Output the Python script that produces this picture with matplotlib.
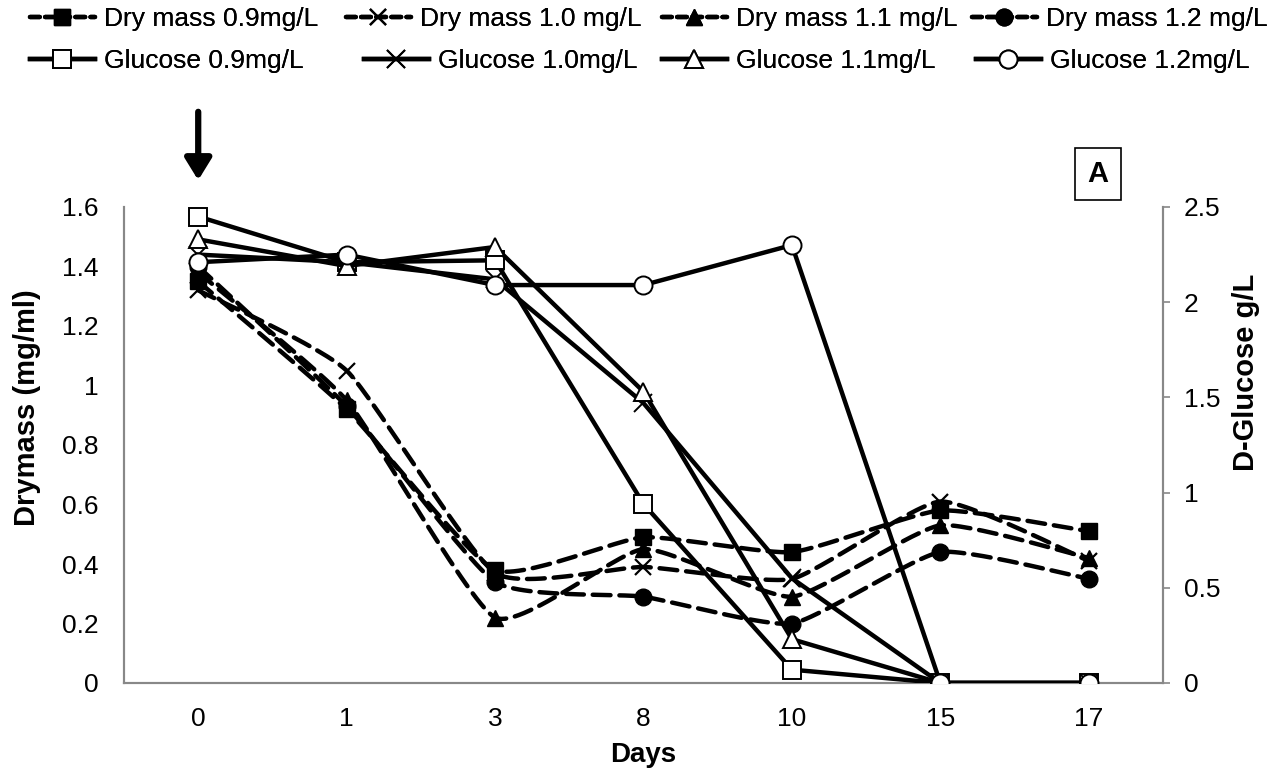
import numpy as np
import matplotlib
matplotlib.use("Agg")
import matplotlib.pyplot as plt
from matplotlib.lines import Line2D

plt.rcParams['font.family'] = ['Liberation Sans', 'DejaVu Sans']

days = ['0', '1', '3', '8', '10', '15', '17']

# dry mass (mg/ml), left axis
dry_09 = [1.35, 0.92, 0.38, 0.49, 0.44, 0.58, 0.51]
dry_10 = [1.32, 1.05, 0.37, 0.39, 0.35, 0.61, 0.41]
dry_11 = [1.38, 0.95, 0.22, 0.45, 0.29, 0.53, 0.42]
dry_12 = [1.40, 0.93, 0.34, 0.29, 0.20, 0.44, 0.35]

# D-glucose (g/L), right axis
glu_09 = [2.45, 2.21, 2.22, 0.94, 0.07, 0.0, 0.0]
glu_10 = [2.25, 2.21, 2.12, 1.47, 0.55, 0.0, 0.0]
glu_11 = [2.33, 2.19, 2.29, 1.53, 0.23, 0.0, 0.0]
glu_12 = [2.21, 2.25, 2.09, 2.09, 2.30, 0.0, 0.0]

dry_labels = ['Dry mass 0.9mg/L', 'Dry mass 1.0 mg/L', 'Dry mass 1.1 mg/L', 'Dry mass 1.2 mg/L']
glu_labels = ['Glucose 0.9mg/L', 'Glucose 1.0mg/L', 'Glucose 1.1mg/L', 'Glucose 1.2mg/L']
markers = ['s', 'x', '^', 'o']


def smooth(y, k=0.085, n=30):
    """Bezier smoothing through the points (spreadsheet-style 'smoothed line')."""
    y = np.asarray(y, float)
    x = np.arange(len(y), dtype=float)
    px = np.concatenate([[x[0]], x, [x[-1]]])
    py = np.concatenate([[y[0]], y, [y[-1]]])
    xs, ys = [], []
    t = np.linspace(0, 1, n)
    for i in range(len(y) - 1):
        p0x, p1x, p2x, p3x = px[i], px[i + 1], px[i + 2], px[i + 3]
        p0y, p1y, p2y, p3y = py[i], py[i + 1], py[i + 2], py[i + 3]
        c1x, c1y = p1x + (p2x - p0x) * k, p1y + (p2y - p0y) * k
        c2x, c2y = p2x - (p3x - p1x) * k, p2y - (p3y - p1y) * k
        bx = (1 - t) ** 3 * p1x + 3 * (1 - t) ** 2 * t * c1x + 3 * (1 - t) * t ** 2 * c2x + t ** 3 * p2x
        by = (1 - t) ** 3 * p1y + 3 * (1 - t) ** 2 * t * c1y + 3 * (1 - t) * t ** 2 * c2y + t ** 3 * p2y
        xs.append(bx)
        ys.append(by)
    return np.concatenate(xs), np.concatenate(ys)


W, H = 1286, 769
fig = plt.figure(figsize=(W / 100, H / 100), dpi=100)
ax = fig.add_axes([124 / W, 86 / H, (1163 - 124) / W, (683 - 207) / H])
ax2 = ax.twinx()

x = np.arange(len(days))
gray = '#888888'
lw = 3.2
dashes = (4, 2)
ms = 12

dry_handles = []
for vals, m, lab in zip([dry_09, dry_10, dry_11, dry_12], markers, dry_labels):
    sx, sy = smooth(vals)
    ax.plot(sx, sy, color='black', lw=lw, dashes=dashes, dash_capstyle='round', zorder=2)
    ax.plot(x, vals, ls='none', marker=m, ms=ms, color='black', mec='black',
            mew=1.6 if m == 'x' else 1, zorder=3)
    dry_handles.append(Line2D([], [], color='black', lw=lw, dashes=(2.2, 1.2),
                              marker=m, ms=ms, mew=1.6 if m == 'x' else 1,
                              dash_capstyle='round', label=lab))

glu_handles = []
for vals, m, lab in zip([glu_09, glu_10, glu_11, glu_12], markers, glu_labels):
    fc = 'black' if m == 'x' else 'white'
    ax2.plot(x, vals, color='black', lw=lw, marker=m, ms=ms + 1, mfc=fc,
             mec='black', mew=1.4, zorder=3)
    glu_handles.append(Line2D([], [], color='black', lw=lw, marker=m, ms=ms + 1,
                              mfc=fc, mec='black', mew=1.4, label=lab))

ax.set_xlim(-0.5, len(days) - 0.5)
ax.set_ylim(0, 1.6)
ax2.set_ylim(0, 2.5)
ax.set_xticks(x)
ax.set_xticklabels(days)
ax.set_yticks(np.arange(0, 1.61, 0.2))
ax.set_yticklabels(['0', '0.2', '0.4', '0.6', '0.8', '1', '1.2', '1.4', '1.6'])
ax2.set_yticks([0, 0.5, 1, 1.5, 2, 2.5])
ax2.set_yticklabels(['0', '0.5', '1', '1.5', '2', '2.5'])

for a in (ax, ax2):
    a.spines['top'].set_visible(False)
    for s in ('left', 'right', 'bottom'):
        a.spines[s].set_color(gray)
        a.spines[s].set_linewidth(1.5)
    a.patch.set_visible(False)

ax.tick_params(axis='y', length=0, labelsize=19, pad=18)
ax.tick_params(axis='x', length=0, labelsize=19, pad=17)
ax2.tick_params(axis='y', length=5, width=1.2, color=gray, labelsize=19, pad=10)

ax.set_xlabel('Days', fontsize=20, fontweight='bold')
ax.xaxis.set_label_coords(0.5, (683 - 742) / 476)
ax.set_ylabel('Drymass (mg/ml)', fontsize=21, fontweight='bold')
ax.yaxis.set_label_coords((41 - 124) / 1039, (683 - 408) / 476)
ax2.set_ylabel('D-Glucose g/L', fontsize=21, fontweight='bold')
ax2.yaxis.set_label_coords((1232 - 124) / 1039, (683 - 372) / 476)

# panel letter
fig.text(1098 / W, 1 - 174 / H, 'A', fontsize=21, fontweight='bold', ha='center', va='center',
         bbox=dict(boxstyle='square,pad=0.42', fc='white', ec='black', lw=1.2))

# inoculation arrow above day 0
ax.annotate('', xy=(0, 1.69), xytext=(0, 1.92),
            arrowprops=dict(arrowstyle='-|>,head_length=1.3,head_width=0.8',
                            color='black', lw=4.5, shrinkA=0, shrinkB=0),
            annotation_clip=False)

# legend: two rows, one entry per anchored legend so the columns sit where wanted
leg_kw = dict(frameon=False, fontsize=19, handlelength=2.45, handletextpad=0.35,
              borderaxespad=0, borderpad=0, loc='center left')
row1_x = [30, 346, 662, 972]
row2_x = [30, 364, 662, 976]
for h, x0 in zip(dry_handles, row1_x):
    lg = fig.legend(handles=[h], bbox_to_anchor=(x0 / W, 1 - 19 / H), **leg_kw)
    fig.add_artist(lg)
for h, x0 in zip(glu_handles, row2_x):
    lg = fig.legend(handles=[h], bbox_to_anchor=(x0 / W, 1 - 61 / H), **leg_kw)
    fig.add_artist(lg)

fig.savefig('out.png', dpi=100)
